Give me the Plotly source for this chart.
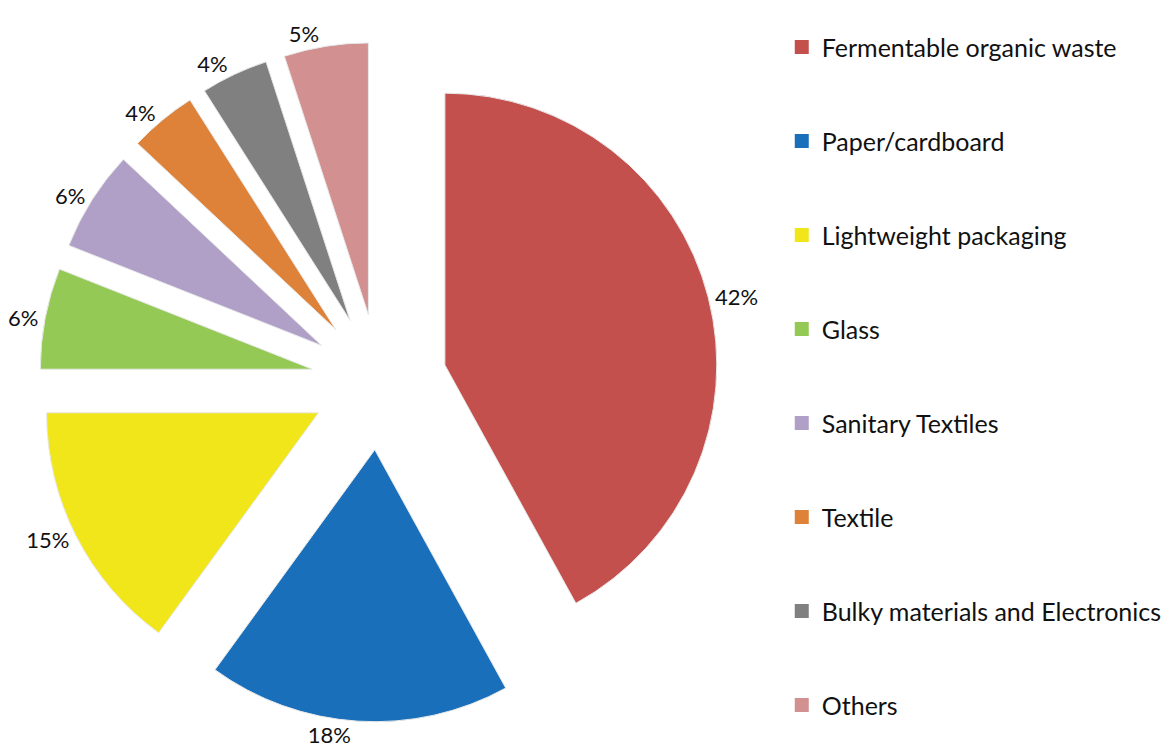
import plotly.graph_objects as go

categories = ["Fermentable organic waste", "Paper/cardboard", "Lightweight packaging",
              "Glass", "Sanitary Textiles", "Textile",
              "Bulky materials and Electronics", "Others"]
values = [42, 18, 15, 6, 6, 4, 4, 5]
colors = ["#C4504E", "#1A6FBA", "#F1E61A", "#93C954", "#B0A0C8", "#DD8238", "#808080", "#D29090"]

FONT = "Lato, Carlito, Calibri, sans-serif"

fig = go.Figure()
fig.add_trace(go.Pie(
    labels=categories, values=values, sort=False, direction="clockwise", rotation=0,
    pull=[0.25] * len(values),
    marker=dict(colors=colors, line=dict(color="#E8E8E8", width=1)),
    text=[f"{v}%" for v in values], textinfo="text", textposition="outside",
    textfont=dict(family=FONT, size=22, color="#111111"),
    showlegend=False, hoverinfo="label+value",
    domain=dict(x=[0.0266, 0.6082], y=[0.0444, 0.9544]),
))

# legend entries (one group per category so the spacing matches the reference)
for cat, col in zip(categories, colors):
    fig.add_trace(go.Scatter(
        x=[None], y=[None], mode="markers", name=cat, legendgroup=cat,
        marker=dict(symbol="square", size=14, color=col),
        hoverinfo="skip",
    ))

fig.update_layout(
    width=1169, height=747,
    margin=dict(l=0, r=0, t=0, b=0, autoexpand=False),
    paper_bgcolor="white", plot_bgcolor="white",
    xaxis=dict(visible=False), yaxis=dict(visible=False),
    showlegend=True,
    legend=dict(
        x=0.6619, y=0.9783, xanchor="left", yanchor="top",
        traceorder="grouped", tracegroupgap=58.5, maxheight=800,
        font=dict(family=FONT, size=25, color="#111111"),
        bgcolor="rgba(0,0,0,0)", itemclick=False,
    ),
    font=dict(family=FONT),
)

fig.write_html("out.html")
